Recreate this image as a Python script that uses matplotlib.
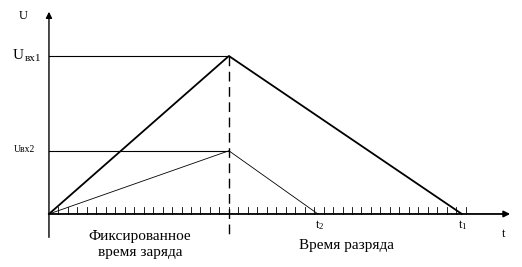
import matplotlib
matplotlib.use('Agg')
import matplotlib.pyplot as plt

plt.rcParams['font.family'] = ['Liberation Serif', 'DejaVu Serif']

# time in tick units, voltage in arbitrary units
t_charge = 19.0
t_2 = 28.4
t_1 = 43.6
u_1 = 2.5
u_2 = 1.0
tick_pos = list(range(1, 45))

fig = plt.figure(figsize=(5.22, 2.67), dpi=100)
ax = fig.add_axes([0, 0, 1, 1])
ax.set_xlim(-5.17, 49.95)
ax.set_ylim(-0.839, 3.386)
ax.axis('off')

# axes with arrows
ax.annotate('', xy=(0, 3.2), xytext=(0, -0.37),
            arrowprops=dict(arrowstyle='-|>', color='black', lw=1.0,
                            mutation_scale=9, shrinkA=0, shrinkB=0))
ax.annotate('', xy=(48.7, 0), xytext=(0, 0),
            arrowprops=dict(arrowstyle='-|>', color='black', lw=1.3,
                            mutation_scale=9, shrinkA=0, shrinkB=0))

# small ticks on time axis
for tp in tick_pos:
    ax.plot([tp, tp], [0, 0.11], color='black', lw=0.6)

# reference levels
ax.plot([0, t_charge], [u_1, u_1], color='black', lw=0.8)
ax.plot([0, t_charge], [u_2, u_2], color='black', lw=0.8)

# end of charge time
ax.plot([t_charge, t_charge], [u_1, -0.37], color='black', lw=1.0,
        linestyle=(0, (7, 4)))

# charge / discharge curves
ax.plot([0, t_charge, t_1], [0, u_1, 0], color='black', lw=1.3)
ax.plot([0, t_charge, t_2], [0, u_2, 0], color='black', lw=0.6)

# labels
ax.text(-2.75, 3.13, 'U', fontsize=9, ha='center', va='center')
ax.text(-3.85, u_1, 'U', fontsize=11, ha='left', va='center')
ax.text(-2.6, u_1 - 0.04, 'вх1', fontsize=8, ha='left', va='center')
ax.text(-3.75, u_2 + 0.02, 'Uвх2', fontsize=7, ha='left', va='center')
ax.text(t_2 + 0.2, -0.18, r'$\mathregular{t_2}$', fontsize=9, ha='center', va='center')
ax.text(t_1 + 0.1, -0.18, r'$\mathregular{t_1}$', fontsize=9, ha='center', va='center')
ax.text(48.0, -0.32, 't', fontsize=9, ha='center', va='center')
ax.text(t_charge / 2 + 0.1, -0.35, 'Фиксированное', fontsize=11, ha='center', va='center')
ax.text(t_charge / 2 + 0.1, -0.61, 'время заряда', fontsize=11, ha='center', va='center')
ax.text(31.4, -0.5, 'Время разряда', fontsize=11, ha='center', va='center')

fig.savefig('out.png', dpi=100)
